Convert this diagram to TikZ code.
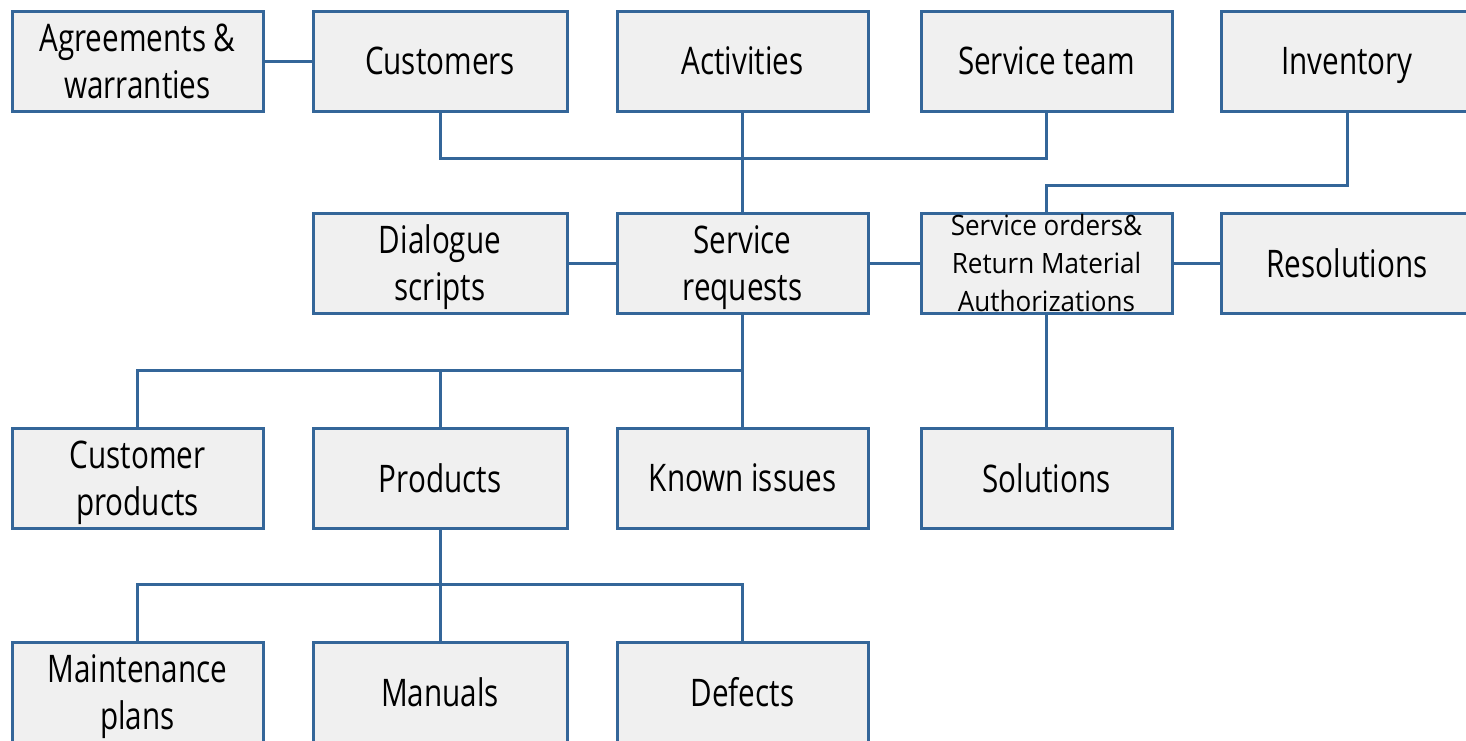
\documentclass[tikz,border=0pt]{standalone}
\usepackage{fontspec}
\setmainfont{Open Sans}[FakeStretch=0.78]
\newfontfamily\widefont{Open Sans}[FakeStretch=0.93]
\definecolor{edgeblue}{RGB}{52,102,153}
\definecolor{boxfill}{RGB}{240,240,240}
\tikzset{
  box/.style={draw=edgeblue, fill=boxfill, line width=3pt, minimum width=251pt, minimum height=100pt,
    inner sep=0pt, align=center, text depth=0pt, font=\fontsize{38}{47}\selectfont},
  smallbox/.style={box, font=\widefont\fontsize{28}{38}\selectfont},
  link/.style={draw=edgeblue, line width=3pt}
}
\begin{document}
\begin{tikzpicture}[x=1pt,y=-1pt]
\useasboundingbox (0,0) rectangle (1466,740);
% row 1
\node[box] (agr) at (137.5,61) {Agreements \&\\warranties};
\node[box, minimum width=254pt] (cust) at (440,61) {Customers};
\node[box] (act) at (742.5,61) {Activities};
\node[box] (team) at (1046.5,61) {Service team};
\node[box] (inv) at (1347,61) {Inventory};
% row 2
\node[box, minimum width=254pt] (dia) at (440,263) {Dialogue\\scripts};
\node[box] (sreq) at (742.5,263) {Service\\requests};
\node[smallbox] (sord) at (1046.5,263) {Service orders\&\\Return Material\\Authorizations};
\node[box] (res) at (1347,263) {Resolutions};
% row 3
\node[box] (cprod) at (137.5,478) {Customer\\products};
\node[box, minimum width=254pt] (prod) at (440,478) {Products};
\node[box] (known) at (742.5,478) {Known issues};
\node[box] (sol) at (1046.5,478) {Solutions};
% row 4
\node[box] (maint) at (137.5,692) {Maintenance\\plans};
\node[box, minimum width=254pt] (man) at (440,692) {Manuals};
\node[box] (def) at (742.5,692) {Defects};
% connectors
\coordinate (j1) at (742.5,158);
\coordinate (j2) at (742.5,370);
\coordinate (j3) at (440,584);
\coordinate (j4) at (1046.5,185);
\path[link] (agr.east) -- (cust.west);
\path[link] (cust.south) |- (j1) -| (team.south);
\path[link] (act.south) -- (sreq.north);
\path[link] (inv.south) |- (j4) -- (sord.north);
\path[link] (dia.east) -- (sreq.west);
\path[link] (sreq.east) -- (sord.west);
\path[link] (sord.east) -- (res.west);
\path[link] (sreq.south) -- (known.north);
\path[link] (cprod.north) |- (j2) -- (sreq.south);
\path[link] (prod.north) -- (prod.north |- j2);
\path[link] (sord.south) -- (sol.north);
\path[link] (prod.south) -- (man.north);
\path[link] (maint.north) |- (j3) -| (def.north);
\end{tikzpicture}
\end{document}
